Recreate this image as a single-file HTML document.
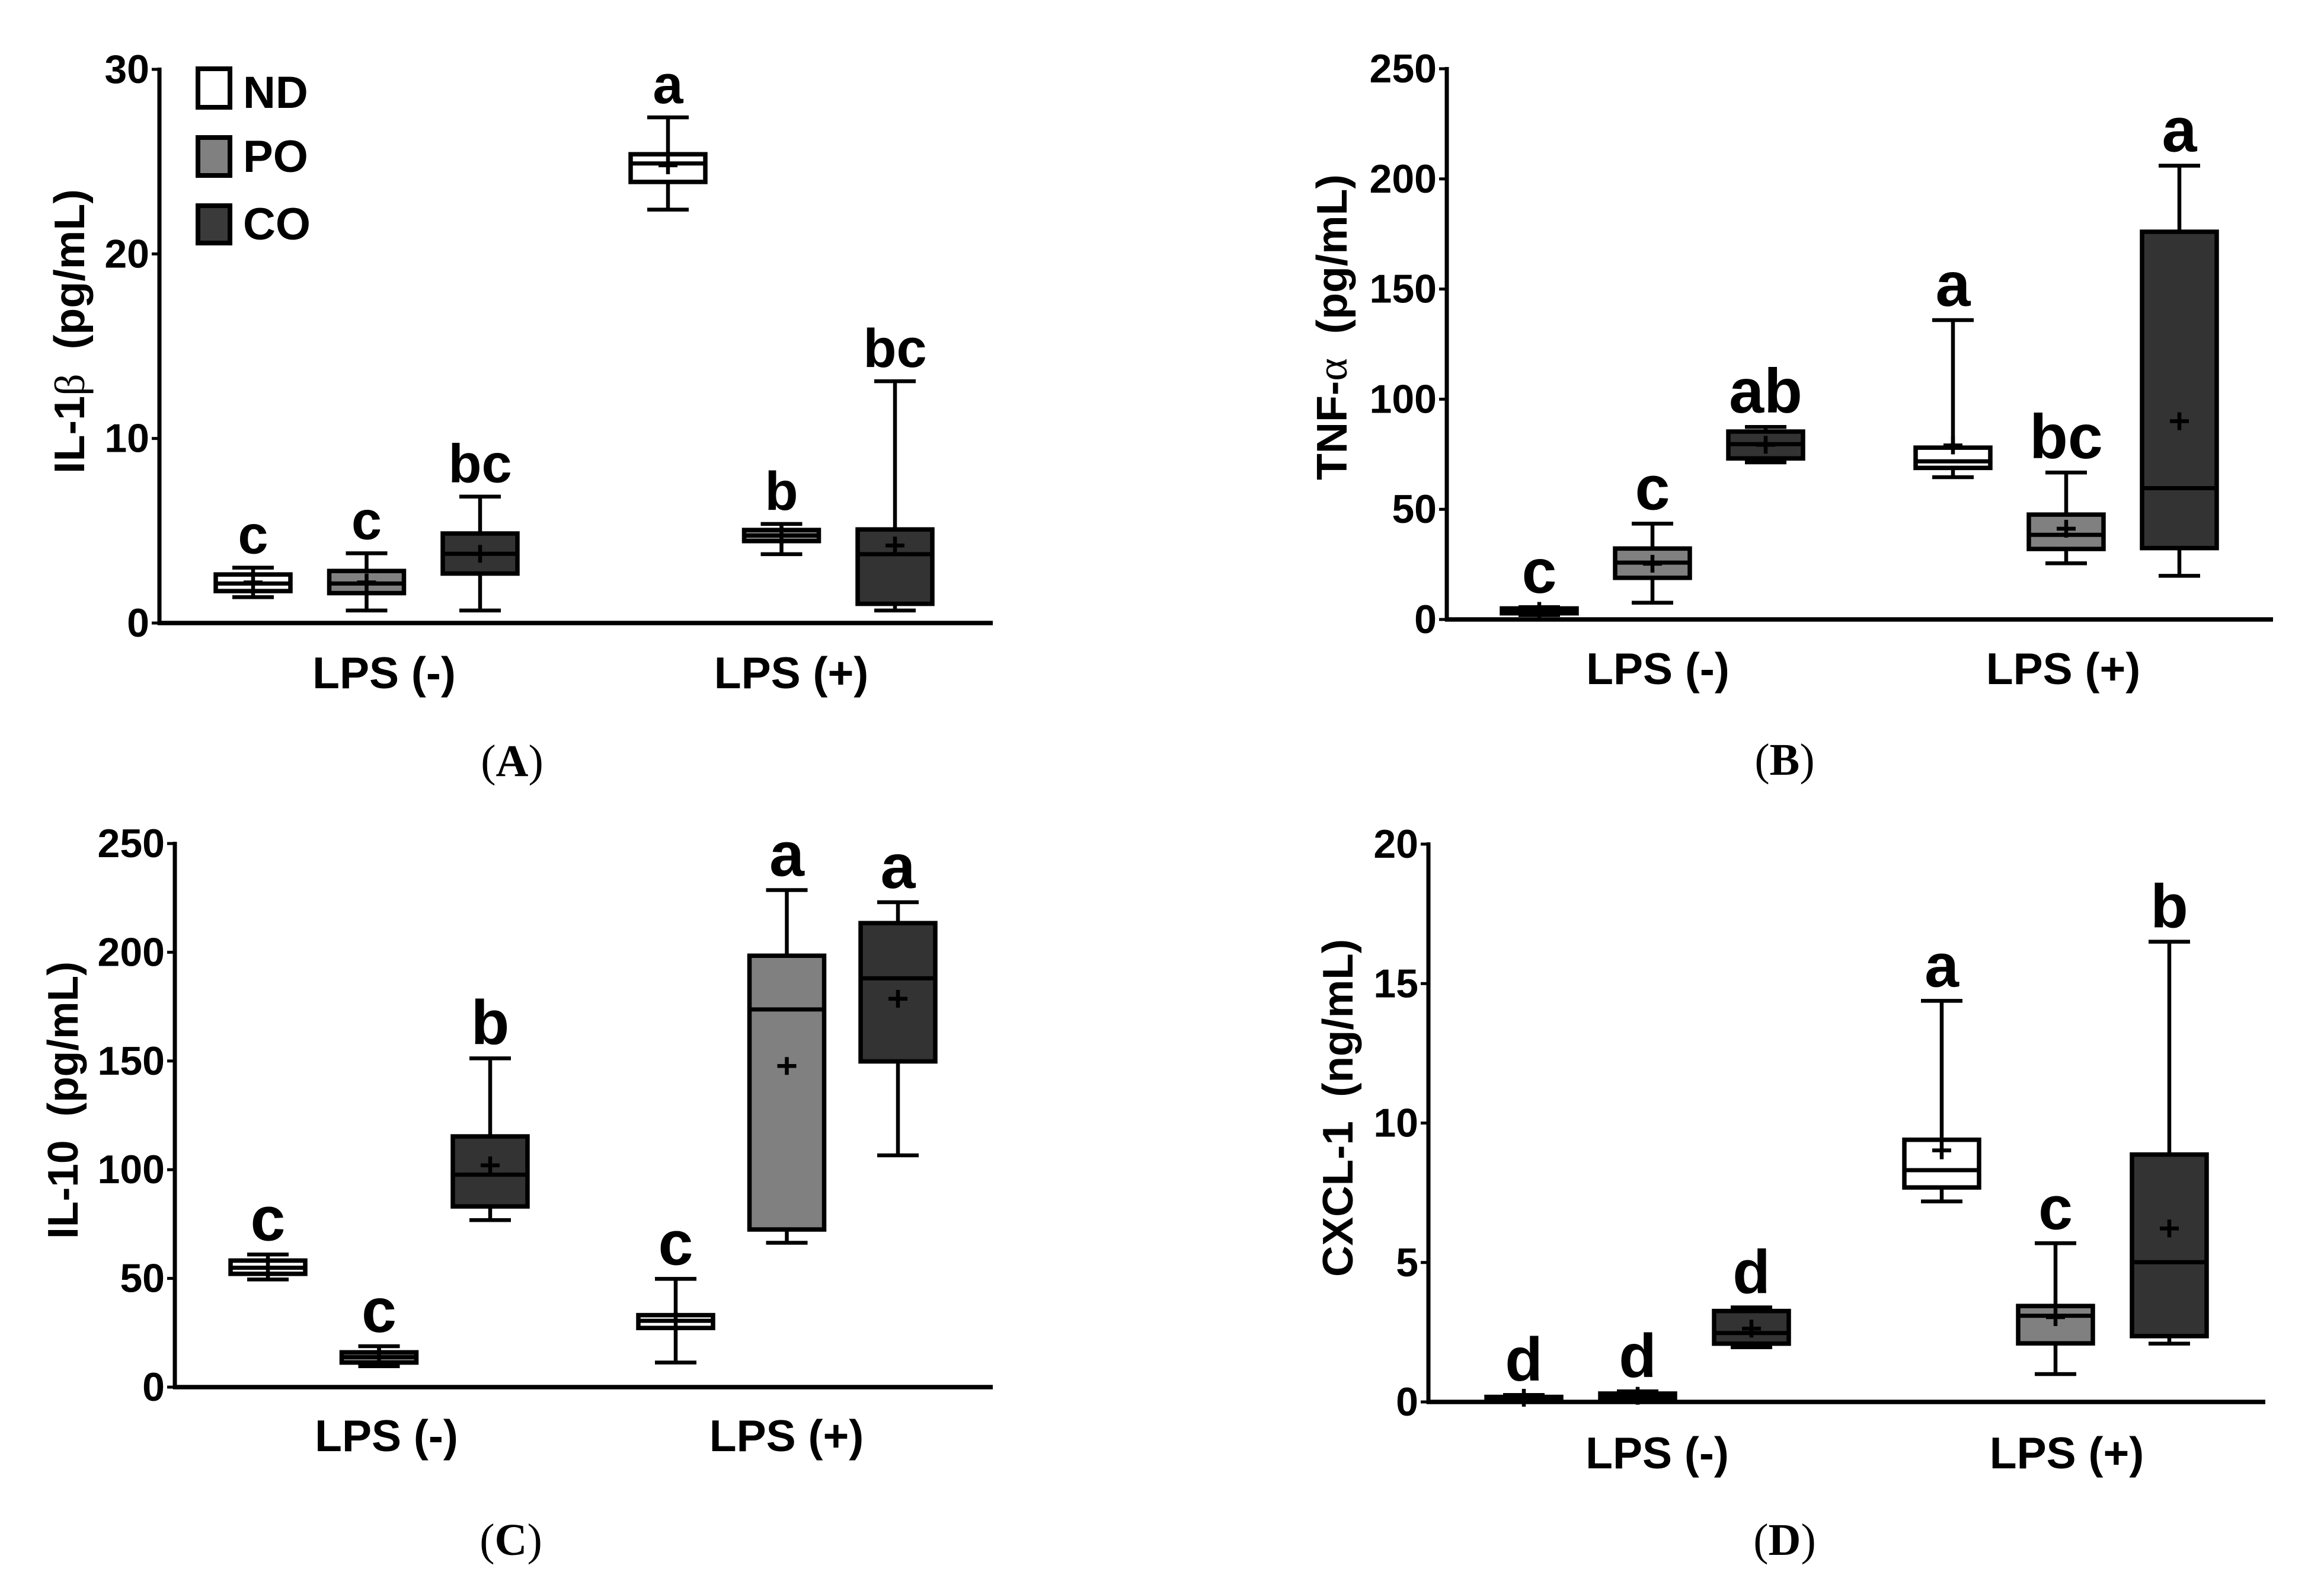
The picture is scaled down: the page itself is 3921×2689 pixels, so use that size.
<!DOCTYPE html>
<html lang="en">
<head>
<meta charset="utf-8">
<title>Cytokine box plots</title>
<style>
html,body{margin:0;padding:0;background:#fff;width:3921px;height:2689px;overflow:hidden}
svg{display:block}
text{font-family:"Liberation Sans",sans-serif;font-weight:bold;fill:#000}
.cap{font-family:"Liberation Serif",serif;font-weight:normal;font-size:76px;text-anchor:middle}
.cap tspan{font-weight:bold}
.leg{font-size:76px;font-weight:bold}
</style>
</head>
<body>
<svg id="fig" xmlns="http://www.w3.org/2000/svg" width="3921" height="2689" viewBox="0 0 3921 2689">
  <rect width="3921" height="2689" fill="#fff"/>
  <g>
    <g>
      <rect x="334" y="116" width="54" height="65" fill="#fff" stroke="#000" stroke-width="8"/>
      <text class="leg" x="410" y="182">ND</text>
    </g>
    <g>
      <rect x="334" y="232" width="54" height="64" fill="#808080" stroke="#000" stroke-width="8"/>
      <text class="leg" x="410" y="290">PO</text>
    </g>
    <g>
      <rect x="334" y="347" width="54" height="63" fill="#3a3a3a" stroke="#000" stroke-width="8"/>
      <text class="leg" x="410" y="404">CO</text>
    </g>
  </g>
  <text class="cap" x="864" y="1309">(<tspan>A</tspan>)</text>
  <text class="cap" x="3011" y="1307">(<tspan>B</tspan>)</text>
  <text class="cap" x="862" y="2623">(<tspan>C</tspan>)</text>
  <text class="cap" x="3011" y="2623">(<tspan>D</tspan>)</text>
</svg>
<script>
// ---------- Shared data ----------
const groupLabels = ['LPS (-)', 'LPS (+)'];
const seriesNames = ['ND', 'PO', 'CO'];

// ---------- Panel A: IL-1 beta (pg/mL) ----------
const aTicks = [0, 10, 20, 30];
const aWhiskerHigh = [3.0, 3.78, 6.85, 27.4, 5.37, 13.1];
const aQ3 = [2.63, 2.82, 4.85, 25.4, 5.04, 5.07];
const aMedian = [2.14, 2.14, 3.75, 24.9, 4.74, 3.73];
const aQ1 = [1.73, 1.62, 2.68, 23.9, 4.44, 1.04];
const aWhiskerLow = [1.4, 0.68, 0.68, 22.4, 3.73, 0.68];
const aMean = [2.2, 2.2, 3.75, 24.8, 4.74, 4.2];
const aLetters = ['c', 'c', 'bc', 'a', 'b', 'bc'];

// ---------- Panel B: TNF-alpha (pg/mL) ----------
const bTicks = [0, 50, 100, 150, 200, 250];
const bWhiskerHigh = [5.6, 43.5, 87.4, 135.9, 66.7, 206];
const bQ3 = [5, 32.2, 85.3, 78, 47.6, 176];
const bMedian = [3.9, 25.8, 79.6, 71.8, 38.4, 59.6];
const bQ1 = [2.8, 18.9, 73.1, 68.8, 32, 32.4];
const bWhiskerLow = [2, 7.6, 71.3, 64.6, 25.5, 19.8];
const bMean = [3.9, 25.3, 79.3, 79, 41.2, 90];
const bLetters = ['c', 'c', 'ab', 'a', 'bc', 'a'];

// ---------- Panel C: IL-10 (pg/mL) ----------
const cTicks = [0, 50, 100, 150, 200, 250];
const cWhiskerHigh = [61, 18.8, 151.2, 49.8, 228.6, 223];
const cQ3 = [58.2, 16, 115.3, 33.1, 198.4, 213.4];
const cMedian = [54.9, 13.8, 97.7, 30.5, 173.7, 188];
const cQ1 = [52.1, 11.3, 83.1, 27.2, 72.5, 149.8];
const cWhiskerLow = [49.5, 9.6, 76.8, 11.3, 66.4, 106.6];
const cMean = [54.9, 13.8, 102, 30.5, 147.7, 178.6];
const cLetters = ['c', 'c', 'b', 'c', 'a', 'a'];

// ---------- Panel D: CXCL-1 (ng/mL) ----------
const dTicks = [0, 5, 10, 15, 20];
const dWhiskerHigh = [0.25, 0.38, 3.39, 14.38, 5.69, 16.5];
const dQ3 = [0.18, 0.3, 3.26, 9.4, 3.44, 8.87];
const dMedian = [0.1, 0.22, 2.47, 8.31, 3.09, 5.01];
const dQ1 = [0.02, 0.15, 2.09, 7.69, 2.1, 2.36];
const dWhiskerLow = [0, 0.09, 1.96, 7.19, 1.0, 2.09];
const dMean = [0.15, 0.22, 2.63, 9.02, 3.04, 6.22];
const dLetters = ['d', 'd', 'd', 'a', 'c', 'b'];

const NS = 'http://www.w3.org/2000/svg';
const fig = document.getElementById('fig');

function svgEl(tag, attrs, parent) {
  const el = document.createElementNS(NS, tag);
  for (const k in attrs) el.setAttribute(k, attrs[k]);
  parent.appendChild(el);
  return el;
}
function seriesFill(i) {
  return ['#ffffff', '#808080', '#333333'][i % 3];
}

function drawPanel(p) {
  const yScale = v => p.y0 - (v / p.yMax) * (p.y0 - p.yTop);
  const xScale = i => p.firstX + (i % 3) * p.step + Math.floor(i / 3) * p.groupGap;

  const panel = svgEl('g', {}, fig);
  
  

  // axes
  const yAxis = svgEl('line', {x1: p.axisX, x2: p.axisX, y1: p.yTop - 3, y2: p.y0 + 3, stroke: '#000', 'stroke-width': 7}, panel);
  
  
  const xAxis = svgEl('line', {x1: p.axisX - 3, x2: p.axisEnd, y1: p.y0, y2: p.y0, stroke: '#000', 'stroke-width': 7.5}, panel);
  
  

  p.ticks.forEach(t => {
    const y = yScale(t);
    const tick = svgEl('line', {x1: p.axisX - 13, x2: p.axisX, y1: y, y2: y, stroke: '#000', 'stroke-width': 5}, panel);
    
    
    const label = svgEl('text', {x: p.axisX - 17, y: y + 23, 'text-anchor': 'end', 'font-size': 68}, panel);
    label.textContent = String(t);
    
    
  });

  // y title
  const title = svgEl('text', {
    transform: 'translate(' + p.titleX + ',' + p.titleY + ') rotate(-90)',
    'text-anchor': 'middle', 'font-size': 72,
    textLength: p.titleLen, lengthAdjust: 'spacingAndGlyphs'
  }, panel);
  
  
  title.appendChild(document.createTextNode(p.titleA));
  if (p.titleGreek) {
    const g = svgEl('tspan', {style: 'font-family:"Liberation Serif",serif;font-weight:normal'}, title);
    g.textContent = p.titleGreek;
  }
  title.appendChild(document.createTextNode(p.titleB));

  // group labels
  groupLabels.forEach((g, i) => {
    const label = svgEl('text', {x: p.groupX[i], y: p.groupY, 'text-anchor': 'middle', 'font-size': 75}, panel);
    label.textContent = g;
    
    
  });

  // boxes
  p.median.forEach((m, i) => {
    const cx = xScale(i);
    const box = svgEl('g', {}, panel);
    
    

    const whisker = svgEl('line', {x1: cx, x2: cx, y1: yScale(p.high[i]), y2: yScale(p.low[i]), stroke: '#000', 'stroke-width': 6.5}, box);
    
    

    const capHigh = svgEl('line', {x1: cx - 35, x2: cx + 35, y1: yScale(p.high[i]), y2: yScale(p.high[i]), stroke: '#000', 'stroke-width': 6.5}, box);
    
    

    const capLow = svgEl('line', {x1: cx - 35, x2: cx + 35, y1: yScale(p.low[i]), y2: yScale(p.low[i]), stroke: '#000', 'stroke-width': 6.5}, box);
    
    

    const rect = svgEl('rect', {
      x: cx - 63, width: 126,
      y: yScale(p.q3[i]), height: yScale(p.q1[i]) - yScale(p.q3[i]),
      fill: seriesFill(i), stroke: '#000', 'stroke-width': 7.5
    }, box);
    
    

    const med = svgEl('line', {x1: cx - 63, x2: cx + 63, y1: yScale(m), y2: yScale(m), stroke: '#000', 'stroke-width': 7}, box);
    
    

    const my = yScale(p.mean[i]);
    const plusH = svgEl('line', {x1: cx - 16, x2: cx + 16, y1: my, y2: my, stroke: '#000', 'stroke-width': 6.5}, box);
    
    
    const plusV = svgEl('line', {x1: cx, x2: cx, y1: my - 15, y2: my + 15, stroke: '#000', 'stroke-width': 6.5}, box);
    
    

    const letter = svgEl('text', {x: cx, y: yScale(p.high[i]) - 24, 'text-anchor': 'middle', 'font-size': p.letterSize}, box);
    letter.textContent = p.letters[i];
    
    
  });
}

drawPanel({
  name: 'panel-a-il1b', ticks: aTicks, yMax: 30, y0: 1051, yTop: 117,
  axisX: 269, axisEnd: 1675, firstX: 427, step: 191.5, groupGap: 700,
  titleA: 'IL-1', titleGreek: '\u03B2', titleB: '\u00A0\u00A0(pg/mL)',
  titleX: 142, titleY: 559, titleLen: 480, letterSize: 92,
  groupX: [648, 1335], groupY: 1161,
  high: aWhiskerHigh, q3: aQ3, median: aMedian, q1: aQ1, low: aWhiskerLow, mean: aMean, letters: aLetters
});
drawPanel({
  name: 'panel-b-tnfa', ticks: bTicks, yMax: 250, y0: 1045, yTop: 116,
  axisX: 2441, axisEnd: 3835, firstX: 2597, step: 191, groupGap: 698,
  titleA: 'TNF-', titleGreek: '\u03B1', titleB: '\u00A0\u00A0(pg/mL)',
  titleX: 2272, titleY: 552, titleLen: 516, letterSize: 106,
  groupX: [2797, 3481], groupY: 1154,
  high: bWhiskerHigh, q3: bQ3, median: bMedian, q1: bQ1, low: bWhiskerLow, mean: bMean, letters: bLetters
});
drawPanel({
  name: 'panel-c-il10', ticks: cTicks, yMax: 250, y0: 2340, yTop: 1423,
  axisX: 295, axisEnd: 1675, firstX: 452, step: 187.5, groupGap: 688,
  titleA: 'IL-10\u00A0\u00A0(pg/mL)', titleGreek: '', titleB: '',
  titleX: 131, titleY: 1856, titleLen: 468, letterSize: 106,
  groupX: [652, 1327], groupY: 2448,
  high: cWhiskerHigh, q3: cQ3, median: cMedian, q1: cQ1, low: cWhiskerLow, mean: cMean, letters: cLetters
});
drawPanel({
  name: 'panel-d-cxcl1', ticks: dTicks, yMax: 20, y0: 2365, yTop: 1424,
  axisX: 2410, axisEnd: 3822, firstX: 2571, step: 192, groupGap: 705,
  titleA: 'CXCL-1\u00A0\u00A0(ng/mL)', titleGreek: '', titleB: '',
  titleX: 2282, titleY: 1869, titleLen: 570, letterSize: 104,
  groupX: [2796, 3487], groupY: 2477,
  high: dWhiskerHigh, q3: dQ3, median: dMedian, q1: dQ1, low: dWhiskerLow, mean: dMean, letters: dLetters
});
</script>
</body>
</html>
